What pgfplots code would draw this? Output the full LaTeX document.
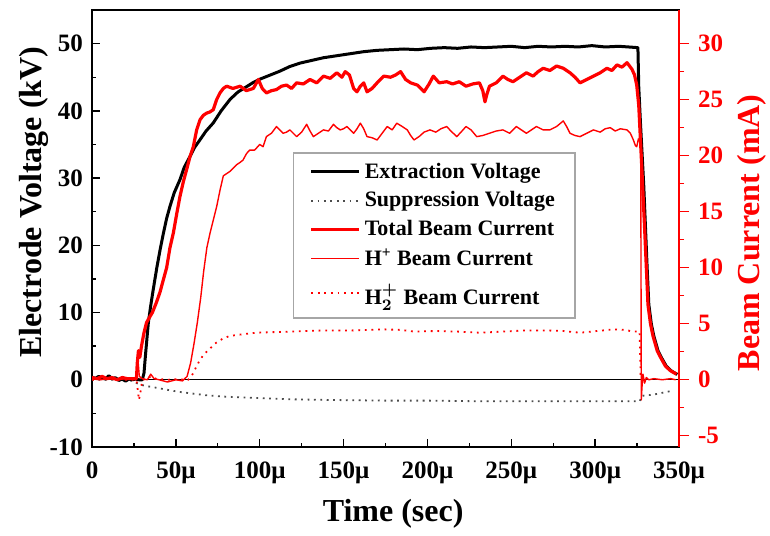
\documentclass[border=0pt]{standalone}
\usepackage{fontspec}
\setmainfont{Liberation Serif}
\usepackage{pgfplots}
\pgfplotsset{compat=1.18}
\begin{document}
\begin{tikzpicture}
\pgfplotsset{
  every axis/.append style={
    scale only axis, width=293.5pt, height=218.5pt,
    xmin=0, xmax=350,
    /pgf/number format/assume math mode=true,
    tick label style={font=\bfseries\fontsize{12.5}{12.5}\selectfont},
    label style={font=\bfseries\fontsize{16}{16}\selectfont},
    major tick length=4pt, minor tick length=2pt,
  },
}
\begin{axis}[name=main,
  ymin=-10, ymax=55,
  axis line style={black, line width=0.8pt},
  tick align=inside,
  xtick={0,50,...,350},
  xticklabels={0,50μ,100μ,150μ,200μ,250μ,300μ,350μ},
  minor x tick num=1,
  ytick={-10,0,...,50},
  minor y tick num=1,
  xtick pos=bottom, ytick pos=left,
  tick style={black, line width=0.7pt},
  xticklabel style={yshift=-4pt},
  yticklabel style={xshift=-1pt},
  xlabel={Time (sec)},
  ylabel={Electrode Voltage (kV)},
  xlabel style={at={(axis description cs:0.513,-0.152)}, anchor=center},
  ylabel style={at={(axis description cs:-0.099,0.56)}, anchor=center},
]
% zero line
\addplot[black, line width=0.65pt, forget plot] coordinates {(0,0) (350,0)};
% Suppression voltage
\addplot[gray!60!black, line width=0.9pt, dash pattern=on 0.9pt off 2.3pt] coordinates {
(0,0)(20,0)(25,-0.2)(26.6,-0.5)(30,-0.8)(34,-1.0)(38.6,-1.2)(45,-1.5)(52,-1.8)(58.4,-2.0)(68,-2.3)(78.3,-2.5)(88,-2.6)(98,-2.7)(118,-2.9)(140,-3.0)(174,-3.1)(200,-3.1)(231,-3.2)(270,-3.2)(311,-3.2)(326.7,-3.2)(327.5,-2.4)(335,-2.2)(346.6,-1.6)
};
% Extraction voltage
\addplot[black, line width=1.5pt, line join=round] coordinates {
(0,0.4)(2,0.2)(4,0.5)(6,0.3)(8,0.1)(10,0.6)(12,0.2)(14,0.3)(16,-0.1)(18,0.1)(20,-0.2)(22,0.1)(24,0)(26,0.1)(28,0)(30,0)(31,1)(32,4)(33.6,8.5)(35,11)(36.5,13.4)(38.6,16.6)(40.5,19.2)(42.5,21.7)(44.5,24)(46.5,25.8)(49,27.8)(52.5,29.8)(55,31.6)(58.4,33.2)(61,34.5)(64.4,35.7)(68,37)(72.3,38.2)(77,40)(82.3,41.7)(87,42.8)(92.2,43.6)(96,44.2)(100,44.7)(106,45.3)(112,45.9)(118,46.6)(124,47.1)(131,47.5)(138,47.9)(146,48.2)(154,48.5)(162,48.8)(170,49.0)(178,49.1)(186,49.2)(194,49.1)(202,49.3)(210,49.4)(218,49.3)(226,49.5)(234,49.4)(242,49.5)(250,49.6)(258,49.4)(266,49.6)(274,49.5)(282,49.6)(290,49.5)(298,49.7)(306,49.5)(314,49.6)(320,49.5)(325.5,49.4)(326,43.6)(327,38.3)(329,28.8)(331,16.7)(332,11.2)(333.5,8.3)(335,6.5)(337.5,4.3)(339.5,3.3)(342.5,2.0)(345.5,1.3)(349,0.8)
};
\end{axis}
\begin{axis}[
  at={(main.south west)}, anchor=south west,
  ymin=-6, ymax=33,
  hide x axis,
  axis y line*=right,
  axis line style={red, line width=0.8pt},
  tick align=outside,
  ytick={-5,0,...,30},
  minor y tick num=1,
  tick style={red, line width=0.7pt},
  major tick length=5pt, minor tick length=2.5pt,
  yticklabel style={red, xshift=1pt},
  ylabel={Beam Current (mA)},
  ylabel style={red, at={(axis description cs:1.124,0.49)}, anchor=center, rotate=0},
  legend style={at={(0.342,0.675)}, anchor=north west, draw=gray!70, line width=0.8pt,
    font=\bfseries\fontsize{11}{13}\selectfont, inner xsep=8pt, inner ysep=3pt, row sep=1.2pt},
  legend cell align=left,
  legend image code/.code={\draw[#1] (0pt,0pt) -- (24pt,0pt);},
]
\addlegendimage{black, line width=1.5pt}
\addlegendentry{Extraction Voltage}
\addlegendimage{gray!60!black, line width=0.9pt, dash pattern=on 0.9pt off 2.3pt}
\addlegendentry{Suppression Voltage}
% Total beam current
\addplot[red, line width=1.6pt, line join=round] coordinates {
(0,0.2)(3,0.1)(6,0.3)(9,0.1)(12,0.2)(15,0.0)(18,0.2)(21,0.1)(24,0.1)(26.5,0.1)(27,1.5)(27.7,2.6)(28.5,2.0)(29.5,3.0)(31,4.2)(32.5,5.1)(34,5.5)(36,6.0)(38.4,6.9)(40.5,7.8)(42.5,8.9)(44.5,10.0)(46.5,11.8)(48.5,13.1)(50.5,14.8)(52.5,16.4)(54.5,17.7)(56.5,18.8)(58.4,19.9)(60.4,20.8)(62.4,22.3)(64.4,23.2)(66.4,23.6)(68.4,23.8)(70.3,23.9)(72.3,24.1)(74.3,25.0)(76.3,25.6)(78.3,26.0)(80.3,26.2)(84,26.0)(88.3,26.2)(92,25.8)(96.2,26.0)(99.2,26.8)(101.5,26.0)(104,25.6)(107,25.8)(110,25.9)(113,26.2)(116,26.3)(119,26.0)(122,26.5)(126,26.4)(130,26.8)(134,26.5)(138,27.1)(142,26.9)(146,27.4)(149,27.0)(151,27.5)(153.5,27.2)(156,26.0)(158,25.7)(160,26.2)(162,26.5)(164,25.7)(167,26.0)(170,26.5)(174,27.1)(178,27.0)(181,27.2)(184,27.5)(187,26.8)(190,26.5)(194,26.3)(198,25.7)(201,26.4)(203.5,27.1)(207,26.5)(211.5,26.6)(215,26.4)(219,26.6)(223,26.2)(227,26.4)(231,26.5)(233,25.8)(234.3,24.8)(235.5,25.5)(237,26.2)(241,26.5)(245,27.1)(248,26.8)(251,26.6)(255,27.0)(259,27.4)(263,27.1)(266,27.5)(269,27.8)(273,27.6)(277,28.0)(281,27.8)(285,27.4)(288,27.0)(291,26.5)(295,26.8)(299,27.1)(303,27.4)(307,27.8)(310,27.6)(313,28.1)(316,27.9)(319,28.3)(320.5,28.0)(322,27.7)(323.5,27.2)(324.8,26.3)(326,24.5)(327.8,19.0)(329.5,13.5)(331.5,6.7)(333,5.0)(334.5,3.9)(337,2.6)(339,2.0)(342,1.2)(345,0.8)(348.5,0.5)
};
\addlegendentry{Total Beam Current}
% H+ beam current
\addplot[red, line width=0.7pt, line join=round] coordinates {
(0,0.1)(5,0.0)(10,0.1)(15,0.0)(20,0.1)(26.5,0)(27.3,2.0)(28.2,0.3)(30,0.1)(33,0.0)(35,0.5)(37,0.1)(40,0.0)(45,-0.2)(50,0.0)(54,-0.1)(56.7,0.3)(58.8,1.5)(60.8,3.2)(62.8,5.1)(64.8,7.3)(66.6,9.7)(68.5,11.8)(70.4,13.1)(72.4,14.3)(74.4,15.5)(76.3,16.9)(78.3,18.2)(80.3,18.4)(82.3,18.6)(84.3,18.9)(86.3,19.2)(88.3,19.4)(90,19.6)(92.2,20.2)(94,20.5)(97,20.5)(100,21.0)(102,20.8)(104,21.7)(107,22.0)(110,22.6)(112,22.3)(114,22.0)(116,22.1)(118,22.3)(120,22.0)(122,21.7)(125,22.1)(128,22.8)(130,22.2)(132,21.7)(135,22.0)(138,22.3)(141,22.2)(144,22.8)(146,22.5)(148,22.3)(150,22.4)(152,22.6)(154,22.3)(156,22.0)(158,22.4)(160,22.9)(162,22.4)(164,21.7)(167,21.6)(170,21.4)(173,22.0)(176,22.6)(179,22.3)(181.7,22.9)(185,22.6)(188,22.3)(190,21.8)(192,21.4)(195,21.7)(198,22.1)(201.5,22.3)(205,22.1)(208,22.4)(211.5,22.6)(214,22.2)(217.5,21.7)(220,22.1)(223,22.6)(226,22.3)(229.4,21.7)(233,21.8)(237,22.0)(241,22.2)(245,22.3)(249,22.0)(253,22.6)(256,22.3)(259,22.0)(262,22.3)(265,22.6)(269,22.3)(273,22.3)(277,22.6)(281,23.1)(283,22.6)(285,22.0)(288,21.8)(291,21.7)(295,22.0)(299,22.3)(303,22.1)(306,22.4)(309,22.5)(312,22.2)(315,22.4)(319,22.3)(321,22.0)(322.8,21.4)(324,20.9)(324.8,20.8)(325.8,21.5)(327.2,21.1)(327.5,-1.8)(328,-0.5)(328.5,0.5)(329.5,-0.3)(330.5,0.2)(332,0)(335,0.1)(340,0.0)(345,0.1)(348,0.0)
};
\addlegendentry{H\textsuperscript{+} Beam Current}
% H2+ beam current
\addplot[red, line width=0.9pt, dash pattern=on 0.9pt off 2.4pt] coordinates {
(0,0)(10,0.05)(20,0)(26.5,0)(27.2,-0.8)(28,-1.8)(29,-1.0)(30,0)(33,0.1)(35,0.3)(38,0.1)(45,0)(50,0.05)(57.4,0)(60,0.5)(62,1.1)(64.4,1.8)(67,2.3)(70.4,2.8)(74,3.3)(78.3,3.7)(82,3.9)(86.3,4.0)(92,4.1)(98,4.2)(108,4.25)(118,4.3)(128,4.35)(138,4.4)(154,4.4)(164,4.45)(174,4.5)(184,4.45)(192,4.3)(205,4.35)(218,4.3)(231,4.2)(245,4.3)(258,4.4)(271,4.4)(281,4.35)(291,4.2)(301,4.35)(311,4.5)(318,4.45)(322.5,4.3)(326.5,4.3)(327.2,0)
};
\addlegendentry{\rule{0pt}{13pt}H{\boldmath$^{+}_{2}$} Beam Current}
\end{axis}
\pgfresetboundingbox
\path[use as bounding box] (main.south west) ++(-46pt,-44pt) rectangle ++(385pt,267.5pt);
\end{tikzpicture}
\end{document}
